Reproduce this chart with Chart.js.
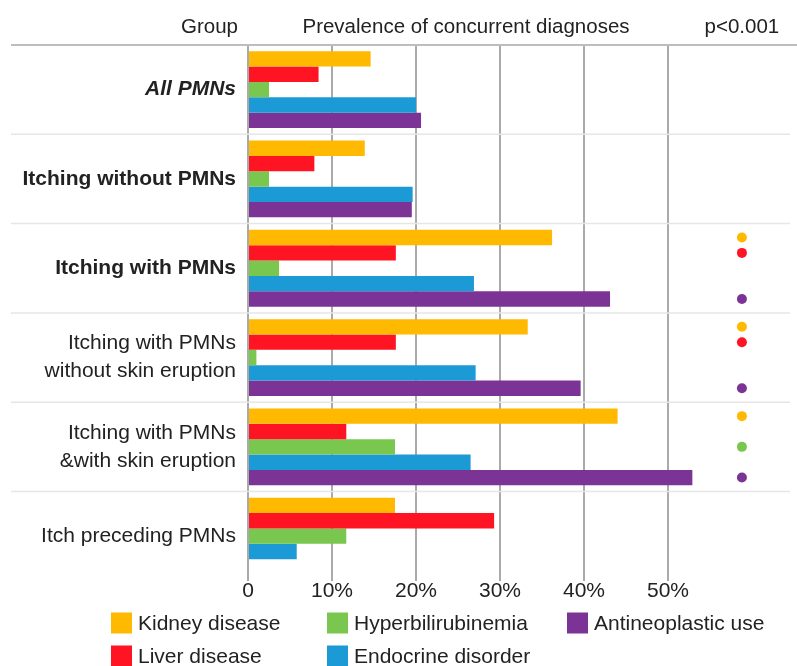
<!DOCTYPE html>
<html>
<head>
<meta charset="utf-8">
<script src="https://cdn.jsdelivr.net/npm/chart.js@4"></script>
<style>
  body { margin: 0; background: #fff; }
  #wrap { width: 797px; height: 666px; }
</style>
</head>
<body>
<div id="wrap"><canvas id="chart" width="797" height="666"></canvas></div>
<script>
// DATA
let groups = [
  "All PMNs",
  "Itching without PMNs",
  "Itching with PMNs",
  ["Itching with PMNs", "without skin eruption"],
  ["Itching with PMNs", "&with skin eruption"],
  "Itch preceding PMNs"
];
let seriesNames = ["Kidney disease", "Liver disease", "Hyperbilirubinemia", "Endocrine disorder", "Antineoplastic use"];
let kidney     = [14.6, 13.9, 36.2, 33.3, 44.0, 17.5];
let liver      = [8.4, 7.9, 17.6, 17.6, 11.7, 29.3];
let hyperbili  = [2.5, 2.5, 3.7, 1.0, 17.5, 11.7];
let endocrine  = [20.0, 19.6, 26.9, 27.1, 26.5, 5.8];
let antineo    = [20.6, 19.5, 43.1, 39.6, 52.9, null];
let xTicks = [0, 10, 20, 30, 40, 50];

// significant at p<0.001 (1 = dot)
let sigKidney    = [0, 0, 1, 1, 1, 0];
let sigLiver     = [0, 0, 1, 1, 0, 0];
let sigHyperbili = [0, 0, 0, 0, 1, 0];
let sigEndocrine = [0, 0, 0, 0, 0, 0];
let sigAntineo   = [0, 0, 1, 1, 1, 0];

let colors = ["#FFB900", "#FF1423", "#7AC74F", "#1C9AD6", "#7B3396"];
let FONT = "'Liberation Sans', Arial, sans-serif";
let TEXT = "#222";
let SIG_COL = 58.8; // value on x scale where the p-value dots sit

let values = [kidney, liver, hyperbili, endocrine, antineo];
let sigs = [sigKidney, sigLiver, sigHyperbili, sigEndocrine, sigAntineo];

// HEADER, SEPARATORS, DOTS, LEGEND
let extras = {
  id: "extras",
  beforeDatasetsDraw(chart){
    let ctx = chart.ctx, y = chart.scales.y, area = chart.chartArea;
    ctx.save();
    ctx.strokeStyle = "#e6e6e6";
    ctx.lineWidth = 1.5;
    for(let i = 0; i < groups.length - 1; i++){
      let yy = (y.getPixelForValue(i) + y.getPixelForValue(i + 1)) / 2;
      ctx.beginPath();
      ctx.moveTo(11, yy);
      ctx.lineTo(790, yy);
      ctx.stroke();
    }
    ctx.strokeStyle = "#bdbdbd";
    ctx.lineWidth = 2;
    ctx.beginPath();
    ctx.moveTo(11, area.top);
    ctx.lineTo(chart.width, area.top);
    ctx.stroke();
    ctx.restore();
  },
  afterDraw(chart){
    let ctx = chart.ctx, x = chart.scales.x, area = chart.chartArea;
    ctx.save();
    ctx.fillStyle = TEXT;
    ctx.font = "20.5px " + FONT;
    ctx.textBaseline = "middle";
    ctx.textAlign = "right";
    ctx.fillText("Group", area.left - 10, 27);
    ctx.textAlign = "center";
    ctx.fillText("Prevalence of concurrent diagnoses", 466, 27);
    ctx.fillText("p<0.001", x.getPixelForValue(SIG_COL), 27);

    // dots
    sigs.forEach((s, i) => {
      let meta = chart.getDatasetMeta(i);
      s.forEach((v, j) => {
        if(!v) return;
        ctx.beginPath();
        ctx.fillStyle = colors[i];
        ctx.arc(x.getPixelForValue(SIG_COL), meta.data[j].y, 5, 0, Math.PI * 2);
        ctx.fill();
      });
    });

    // legend, column by column
    let colX = [111, 327, 567], rowY = [623, 656];
    ctx.font = "21px " + FONT;
    ctx.textAlign = "left";
    seriesNames.forEach((name, i) => {
      let cx = colX[Math.floor(i / 2)], cy = rowY[i % 2];
      ctx.fillStyle = colors[i];
      ctx.fillRect(cx, cy - 10.5, 21, 21);
      ctx.fillStyle = TEXT;
      ctx.fillText(name, cx + 27, cy + 1);
    });
    ctx.restore();
  }
};

let chart = new Chart(document.getElementById("chart"), {
  type: "bar",
  data: {
    labels: groups,
    datasets: values.map((v, i) => ({
      label: seriesNames[i],
      data: v,
      backgroundColor: colors[i],
      borderWidth: 0,
      barPercentage: 1,
      categoryPercentage: 0.86
    }))
  },
  options: {
    indexAxis: "y",
    responsive: false,
    animation: false,
    layout: { padding: { top: 45, right: 3, bottom: 64, left: 0 } },
    plugins: { legend: { display: false }, tooltip: { enabled: false } },
    scales: {
      x: {
        min: 0,
        max: 65,
        z: 1,
        afterBuildTicks: s => { s.ticks = xTicks.map(v => ({ value: v })); },
        grid: { color: "#aaaaaa", lineWidth: 2, drawTicks: false },
        border: { display: false },
        ticks: {
          padding: -2,
          color: TEXT,
          font: { family: FONT, size: 21 },
          callback: v => v === 0 ? "0" : v + "%"
        }
      },
      y: {
        afterFit: s => { s.width = 248; },
        grid: { display: false },
        border: { display: false },
        ticks: {
          padding: 4,
          color: TEXT,
          font: ctx => ({
            family: FONT,
            size: 21,
            lineHeight: 1.33,
            weight: ctx.index < 3 ? "bold" : "normal",
            style: ctx.index === 0 ? "italic" : "normal"
          })
        }
      }
    }
  },
  plugins: [extras]
});
</script>
</body>
</html>
